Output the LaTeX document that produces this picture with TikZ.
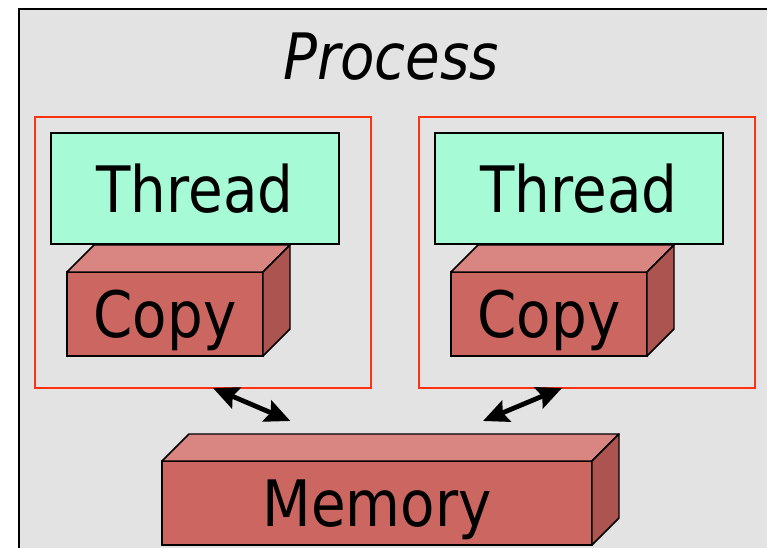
\documentclass[tikz,border=0pt]{standalone}
\usepackage{fontspec}
\setmainfont{DejaVu Sans}[FakeStretch=0.88]
\usetikzlibrary{arrows.meta}

\definecolor{bggray}{HTML}{E3E3E3}
\definecolor{threadgreen}{HTML}{A6FAD6}
\definecolor{frontred}{HTML}{CC6660}
\definecolor{topred}{HTML}{D98581}
\definecolor{sidered}{HTML}{AC5550}
\definecolor{framered}{HTML}{FF3311}

\tikzset{
    biarrow/.style={line width=3.6pt, {Stealth[length=19pt,width=17pt,inset=3pt]}-{Stealth[length=19pt,width=17pt,inset=3pt]}}
}

\begin{document}
\begin{tikzpicture}[
    x=0.75pt, y=0.75pt,
    big/.style={font=\fontsize{48}{58}\selectfont},
    frame/.style={draw=framered, line width=1.2pt, minimum width=252pt, minimum height=203.25pt, outer sep=0pt},
    thread/.style={draw, line width=1.4pt, fill=threadgreen, minimum width=216pt, minimum height=83.25pt, outer sep=0pt, big},
    cube/.style={draw, line width=1.1pt, fill=frontred, minimum height=63pt, outer sep=0pt, text depth=0pt, big},
    faceline/.style={draw, line width=1.1pt, line join=round}
]
    \useasboundingbox (0,0) rectangle (767,548);

    % Process background
    \fill[bggray] (19,0) rectangle (767,539);
    \draw[line width=1.6pt] (19,0) -- (19,539) -- (767,539);
    \node[font=\fontsize{48}{58}\selectfont\itshape, anchor=base] (title) at (391,468) {Process};

    % Thread frames
    \node[frame] (frame1) at (203,295.5) {};
    \node[frame] (frame2) at (587,295.5) {};

    % Copies and memory (front faces)
    \node[cube, minimum width=147pt] (copy1) at (165,234) {Copy};
    \node[cube, minimum width=147pt] (copy2) at (549,234) {Copy};
    \node[cube, minimum width=322.5pt] (memory) at (377,45) {Memory};

    % Top and side faces
    \foreach \c in {copy1,copy2,memory} {
        \draw[faceline, fill=topred] (\c.north west) -- ++(27,27)
            -- ([shift={(27,27)}]\c.north east) -- (\c.north east) -- cycle;
        \draw[faceline, fill=sidered] (\c.north east) -- ++(27,27)
            -- ([shift={(27,27)}]\c.south east) -- (\c.south east) -- cycle;
    }

    % Threads
    \node[thread] (thread1) at (195,359.5) {Thread};
    \node[thread] (thread2) at (579,359.5) {Thread};

    % Arrows
    \draw[biarrow] ([xshift=7.5pt]frame1.south) -- ([xshift=-65pt,yshift=30pt]memory.north);
    \draw[biarrow] ([xshift=-18.75pt]frame2.south) -- ([xshift=79.5pt,yshift=30pt]memory.north);
\end{tikzpicture}
\end{document}
